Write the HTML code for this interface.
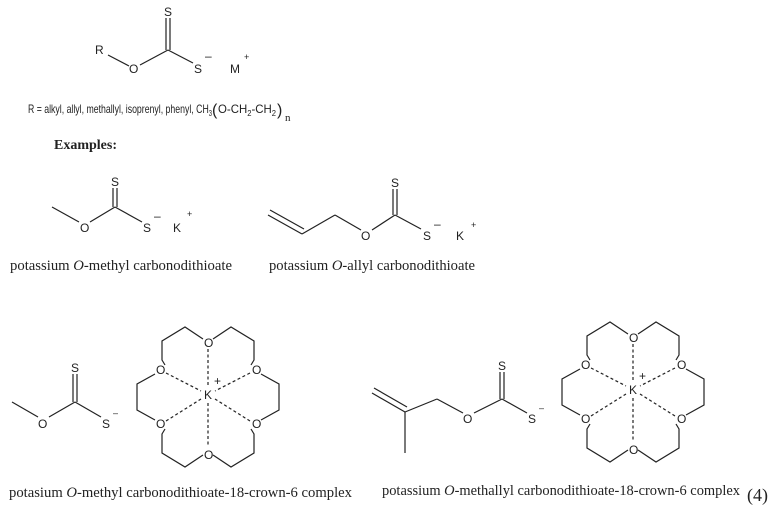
<!DOCTYPE html>
<html><head><meta charset="utf-8"><style>
body{margin:0;background:#fff}
svg{display:block}
.a{font-family:"Liberation Sans",sans-serif;font-size:12px;fill:#222}
.s{font-family:"Liberation Serif",serif;font-size:15px;fill:#222}
line,polyline{stroke:#222;stroke-width:1.2;fill:none}
.d{stroke-dasharray:3,2.5}
</style></head><body>
<svg width="780" height="512" viewBox="0 0 780 512" xmlns="http://www.w3.org/2000/svg">
<defs>
<g id="crown">
<polyline points="-5,-58 -23,-70 -46,-56 -46,-37 -43,-32"/>
<polyline points="5,-58 23,-70 46,-56 46,-37 43,-32"/>
<polyline points="-53,-23 -71,-13 -71,13 -53,23"/>
<polyline points="53,-23 71,-13 71,13 53,23"/>
<polyline points="-5,58 -23,70 -46,56 -46,37 -43,32"/>
<polyline points="5,58 23,70 46,56 46,37 43,32"/>
<line class="d" x1="0" y1="-48" x2="0" y2="-12"/>
<line class="d" x1="0" y1="6" x2="0" y2="48"/>
<line class="d" x1="-42" y1="-24" x2="-7" y2="-6"/>
<line class="d" x1="42" y1="-24" x2="7" y2="-6"/>
<line class="d" x1="-42" y1="24" x2="-7" y2="2"/>
<line class="d" x1="42" y1="24" x2="7" y2="2"/>
<text class="a" x="-4" y="-50">O</text>
<text class="a" x="-4" y="62">O</text>
<text class="a" x="-52" y="-23">O</text>
<text class="a" x="44" y="-23">O</text>
<text class="a" x="-52" y="31">O</text>
<text class="a" x="44" y="31">O</text>
<text class="a" x="-4" y="2">K</text>
<text class="a" x="6" y="-12">+</text>
</g>
</defs>

<!-- top generic -->
<text class="a" x="95" y="54">R</text>
<line x1="108" y1="55" x2="129" y2="66"/>
<text class="a" x="129" y="73">O</text>
<line x1="140" y1="65" x2="168" y2="50"/>
<line x1="166" y1="50" x2="166" y2="18"/>
<line x1="170" y1="50" x2="170" y2="18"/>
<text class="a" x="164" y="16">S</text>
<line x1="168" y1="50" x2="193" y2="63"/>
<text class="a" x="194" y="73">S</text>
<text class="a" x="205" y="60">–</text>
<text class="a" x="230" y="73">M</text>
<text class="a" style="font-size:9px" x="244" y="60">+</text>
<text class="a" style="font-size:12px" x="28" y="113" textLength="184" lengthAdjust="spacingAndGlyphs">R = alkyl, allyl, methallyl, isoprenyl, phenyl, CH<tspan style="font-size:8px" dy="3">3</tspan></text>
<text class="a" style="font-size:16px" x="212" y="115">(</text>
<text class="a" style="font-size:12px" x="218" y="113" textLength="58" lengthAdjust="spacingAndGlyphs">O-CH<tspan style="font-size:8px" dy="3">2</tspan><tspan dy="-3">-CH</tspan><tspan style="font-size:8px" dy="3">2</tspan></text>
<text class="a" style="font-size:16px" x="277" y="115">)</text>
<text class="s" style="font-size:11px" x="285" y="121">n</text>
<text class="s" style="font-weight:bold;font-size:14px" x="54" y="149">Examples:</text>

<!-- ex1 -->
<line x1="52" y1="207" x2="79" y2="222"/>
<text class="a" x="80" y="232">O</text>
<line x1="90" y1="222" x2="115" y2="207"/>
<line x1="113" y1="207" x2="113" y2="188"/>
<line x1="117" y1="207" x2="117" y2="188"/>
<text class="a" x="111" y="186">S</text>
<line x1="115" y1="207" x2="142" y2="222"/>
<text class="a" x="143" y="232">S</text>
<text class="a" x="154" y="220">–</text>
<text class="a" x="173" y="232">K</text>
<text class="a" style="font-size:9px" x="187" y="217">+</text>
<text class="s" x="10" y="270" textLength="222" lengthAdjust="spacingAndGlyphs">potassium <tspan font-style="italic">O</tspan>-methyl carbonodithioate</text>

<!-- ex2 -->
<line x1="268" y1="215" x2="302" y2="234"/>
<line x1="270" y1="210" x2="304" y2="229"/>
<line x1="302" y1="234" x2="335" y2="215"/>
<line x1="335" y1="215" x2="361" y2="230"/>
<text class="a" x="361" y="240">O</text>
<line x1="372" y1="230" x2="395" y2="215"/>
<line x1="393" y1="215" x2="393" y2="189"/>
<line x1="397" y1="215" x2="397" y2="189"/>
<text class="a" x="391" y="187">S</text>
<line x1="395" y1="215" x2="421" y2="229"/>
<text class="a" x="423" y="240">S</text>
<text class="a" x="434" y="228">–</text>
<text class="a" x="456" y="240">K</text>
<text class="a" style="font-size:9px" x="471" y="228">+</text>
<text class="s" x="269" y="270" textLength="206" lengthAdjust="spacingAndGlyphs">potassium <tspan font-style="italic">O</tspan>-allyl carbonodithioate</text>

<!-- bottom left -->
<line x1="12" y1="402" x2="38" y2="417"/>
<text class="a" x="38" y="428">O</text>
<line x1="49" y1="417" x2="75" y2="402"/>
<line x1="73" y1="402" x2="73" y2="374"/>
<line x1="77" y1="402" x2="77" y2="374"/>
<text class="a" x="71" y="372">S</text>
<line x1="75" y1="402" x2="101" y2="417"/>
<text class="a" x="102" y="428">S</text>
<text class="a" style="font-size:9px" x="113" y="416">–</text>
<use href="#crown" transform="translate(208,397)"/>
<text class="s" x="9" y="497" textLength="343" lengthAdjust="spacingAndGlyphs">potasium <tspan font-style="italic">O</tspan>-methyl carbonodithioate-18-crown-6 complex</text>

<!-- bottom right -->
<line x1="372" y1="393" x2="405" y2="412"/>
<line x1="374" y1="388" x2="407" y2="407"/>
<line x1="405" y1="412" x2="437" y2="399"/>
<line x1="405" y1="412" x2="405" y2="453"/>
<line x1="437" y1="399" x2="463" y2="413"/>
<text class="a" x="463" y="423">O</text>
<line x1="474" y1="413" x2="502" y2="399"/>
<line x1="500" y1="399" x2="500" y2="372"/>
<line x1="504" y1="399" x2="504" y2="372"/>
<text class="a" x="498" y="370">S</text>
<line x1="502" y1="399" x2="527" y2="413"/>
<text class="a" x="528" y="423">S</text>
<text class="a" style="font-size:9px" x="539" y="411">–</text>
<use href="#crown" transform="translate(633,392)"/>
<text class="s" x="382" y="495" textLength="358" lengthAdjust="spacingAndGlyphs">potassium <tspan font-style="italic">O</tspan>-methallyl carbonodithioate-18-crown-6 complex</text>
<text class="s" style="font-size:18px" x="747" y="501">(4)</text>
</svg>
</body></html>
